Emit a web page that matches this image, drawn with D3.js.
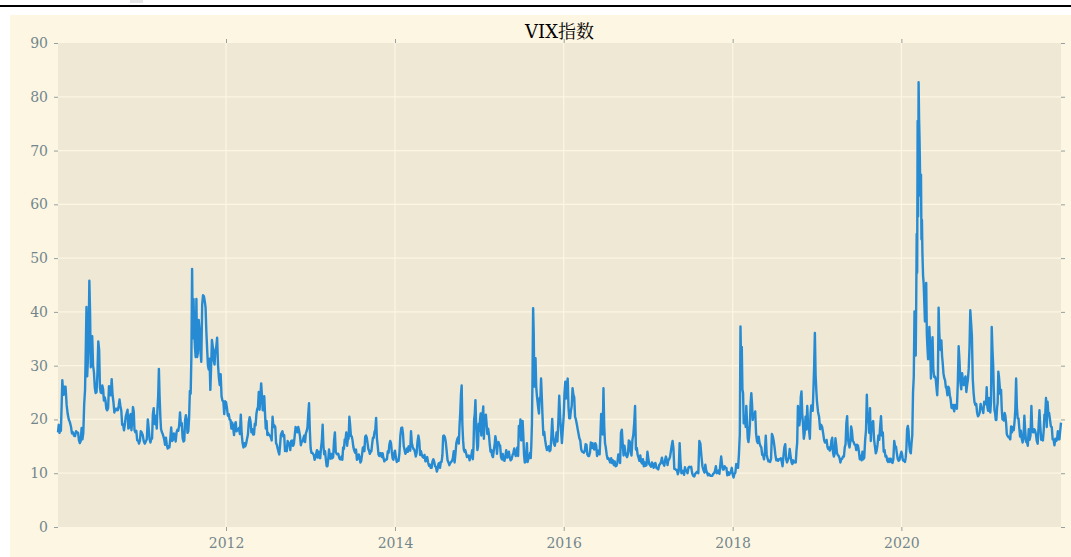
<!DOCTYPE html>
<html>
<head>
<meta charset="utf-8">
<title>VIX指数</title>
<script src="https://cdn.jsdelivr.net/npm/d3@7"></script>
<style>
  html, body { margin: 0; padding: 0; background: #ffffff; }
  svg { display: block; }
</style>
</head>
<body>
<svg id="chart" width="1071" height="557"></svg>
<script>
'use strict';

var chartTitle = 'VIX指数';
var yTicks = [0, 10, 20, 30, 40, 50, 60, 70, 80, 90];
var xTickYears = [2012, 2014, 2016, 2018, 2020];
var firstDay = new Date(2010, 0, 4);
var lastDay = new Date(2021, 10, 25);

// closes, one list per month (Jan..Dec)
var vix2010 = [
    [17.6, 19.0, 17.5, 18.0, 17.9, 22.3, 27.3, 25.4, 24.6],
    [26.1, 26.1, 22.7, 21.0, 20.0, 19.5],
    [18.7, 17.4, 17.6, 17.0, 16.9, 17.8, 17.6],
    [17.5, 16.1, 15.6, 16.0, 18.4, 16.3, 17.5, 22.8],
    [25.5, 32.8, 40.9, 28.0, 31.2, 35.0, 45.8, 40.1, 29.7, 32.1],
    [35.5, 30.0, 28.8, 25.9, 24.9, 25.1, 28.5, 34.5],
    [32.9, 26.0, 25.0, 24.9, 26.3, 25.6, 23.5, 24.1, 23.5],
    [22.0, 21.7, 22.1, 26.2, 25.5, 24.5, 27.5, 24.5],
    [23.2, 21.3, 22.0, 21.7, 22.0, 21.7, 22.5, 23.7],
    [22.5, 21.6, 19.0, 19.1, 18.0, 19.1, 20.6, 21.2],
    [21.8, 18.3, 18.5, 20.6, 21.0, 18.0, 19.6, 22.3, 21.5],
    [18.0, 17.6, 17.9, 16.1, 16.1, 15.5, 16.0, 17.8]
];
var vix2011 = [
    [17.6, 17.1, 16.0, 15.5, 15.9, 16.3, 20.0],
    [18.0, 16.3, 15.7, 16.4, 16.4, 21.0, 22.1, 19.2],
    [19.1, 20.7, 18.3, 21.9, 24.3, 29.4, 24.3, 20.6, 18.2, 17.7],
    [17.4, 16.9, 16.3, 15.3, 16.6, 15.3, 14.6, 15.0],
    [14.8, 16.4, 18.5, 16.0, 16.2, 17.4, 17.1, 15.9],
    [17.6, 18.1, 17.9, 18.9, 21.3, 18.9, 19.3, 16.5],
    [15.9, 16.1, 19.9, 20.8, 20.0, 17.5, 17.8, 20.2, 25.3],
    [24.8, 31.7, 48.0, 35.1, 42.4, 36.3, 33.4, 31.6, 42.4, 31.6],
    [32.3, 38.5, 36.6, 32.7, 30.7, 41.3, 43.1, 42.9],
    [42.0, 40.8, 36.3, 33.0, 30.0, 29.3, 31.3, 25.5, 29.9],
    [34.8, 33.5, 31.0, 30.2, 32.9, 33.5, 35.2, 30.2],
    [27.8, 26.4, 28.4, 24.3, 23.5, 23.4, 21.0, 23.4]
];
var vix2012 = [
    [23.2, 22.2, 20.7, 21.0, 20.0, 19.9, 18.3, 19.4],
    [18.4, 17.1, 19.0, 19.5, 17.8, 18.2, 18.0, 18.4],
    [17.3, 20.9, 17.3, 15.6, 14.8, 15.6, 15.0, 15.5],
    [16.4, 17.2, 19.5, 20.4, 19.6, 17.6, 18.2, 17.2],
    [17.2, 19.2, 18.9, 21.0, 21.9, 22.3, 25.1, 21.8, 24.1],
    [26.7, 24.5, 21.7, 21.7, 24.3, 21.1, 18.3, 19.7, 17.1],
    [17.5, 17.1, 17.0, 16.7, 16.1, 20.5, 18.6, 18.9],
    [18.6, 15.6, 15.3, 14.6, 14.0, 13.5, 15.1, 17.1, 17.5],
    [17.8, 16.8, 17.1, 14.1, 14.6, 14.1, 16.0, 15.7],
    [15.4, 14.3, 16.0, 16.1, 15.1, 15.4, 17.0, 18.6],
    [18.3, 17.6, 18.6, 17.9, 16.9, 15.2, 15.9, 15.9],
    [16.6, 17.0, 15.8, 17.4, 17.8, 18.5, 21.0, 23.0, 18.0]
];
var vix2013 = [
    [14.7, 13.8, 13.8, 13.6, 13.4, 12.5, 12.9, 13.6, 14.3],
    [12.9, 14.0, 13.0, 12.8, 14.7, 16.0, 19.0, 15.0],
    [13.5, 14.1, 12.6, 11.3, 11.3, 12.6, 14.4, 13.2, 12.7],
    [13.6, 12.8, 13.0, 16.0, 17.6, 14.0, 13.6, 13.5],
    [13.6, 12.9, 12.6, 12.6, 13.1, 12.5, 14.8, 14.5, 16.3],
    [16.3, 17.6, 15.1, 16.3, 16.4, 20.5, 18.9, 16.9, 16.9],
    [16.2, 14.9, 14.2, 13.8, 14.4, 12.5, 12.7, 13.5],
    [12.9, 12.0, 12.3, 13.4, 14.7, 14.9, 14.1, 16.8, 17.0],
    [16.6, 15.6, 14.5, 14.2, 13.6, 14.0, 14.1, 15.5, 16.6],
    [16.6, 17.7, 18.1, 20.3, 16.5, 15.1, 13.5, 13.2, 13.7],
    [13.7, 13.0, 13.7, 12.8, 12.2, 12.5, 12.5, 12.6],
    [14.1, 13.8, 15.4, 16.0, 15.6, 14.0, 12.8, 12.5, 13.7]
];
var vix2014 = [
    [14.2, 13.0, 12.1, 12.4, 12.3, 13.8, 17.0, 18.4],
    [18.5, 17.4, 15.0, 14.3, 13.6, 14.0, 14.6, 14.0],
    [15.0, 14.8, 14.2, 17.8, 15.6, 15.0, 14.5, 14.4, 13.9],
    [13.1, 13.8, 15.9, 17.0, 16.0, 13.4, 14.1, 13.4],
    [13.0, 12.9, 13.4, 12.2, 12.4, 13.0, 12.0, 11.4],
    [11.6, 11.0, 11.0, 12.2, 12.6, 12.1, 11.3, 11.2],
    [10.3, 10.8, 11.7, 11.9, 11.0, 12.1, 12.1, 13.3, 16.9],
    [17.0, 16.7, 15.8, 14.1, 12.4, 12.0, 11.5, 11.9],
    [12.1, 12.3, 12.8, 14.1, 12.0, 13.7, 15.6, 16.3],
    [16.7, 15.5, 18.8, 21.2, 24.6, 26.3, 19.0, 16.1, 14.4, 14.0],
    [14.3, 13.7, 13.0, 13.1, 13.3, 12.4, 13.0, 13.3],
    [14.3, 12.6, 14.9, 20.0, 21.1, 23.6, 19.4, 16.5, 14.3, 15.0, 19.2]
];
var vix2015 = [
    [17.8, 20.0, 21.1, 17.0, 19.9, 20.9, 22.4, 16.4, 20.0, 19.0, 20.9],
    [19.4, 17.3, 18.3, 17.2, 15.3, 14.0, 14.3, 13.3],
    [13.0, 14.2, 15.2, 16.9, 16.0, 13.6, 15.4, 15.8, 15.3],
    [15.1, 13.0, 12.6, 13.6, 12.4, 12.3, 13.1, 14.3],
    [12.9, 13.1, 14.0, 12.9, 12.4, 12.6, 13.3, 13.8],
    [14.6, 13.6, 13.2, 14.0, 14.8, 13.2, 18.8, 16.9, 20.0],
    [16.1, 16.8, 19.7, 17.0, 13.4, 12.0, 12.1, 13.7, 15.6, 12.1],
    [12.6, 13.4, 13.0, 13.8, 12.8, 15.3, 19.1, 28.0, 40.7, 36.0, 26.1, 28.4],
    [31.4, 26.1, 24.4, 23.2, 22.0, 21.1, 24.0, 23.6, 27.6, 24.5],
    [20.9, 17.1, 17.7, 16.2, 15.1, 14.3, 14.5, 15.0],
    [14.1, 14.3, 16.7, 20.1, 16.9, 15.5, 15.1, 16.1],
    [17.6, 15.9, 19.6, 24.4, 20.6, 17.9, 15.6, 18.2]
];
var vix2016 = [
    [20.7, 24.9, 27.0, 23.9, 26.1, 27.6, 22.3, 20.2, 20.2],
    [21.6, 22.5, 25.8, 24.6, 24.1, 20.5, 20.0, 19.2],
    [18.3, 17.4, 16.5, 16.1, 14.5, 14.0, 14.0, 13.8],
    [14.1, 15.4, 15.3, 13.5, 13.2, 13.2, 13.8, 15.7],
    [14.7, 15.6, 14.7, 14.4, 15.6, 15.2, 13.2, 14.2],
    [14.2, 13.5, 17.0, 21.0, 19.4, 17.2, 25.8, 18.7, 15.6],
    [14.8, 13.5, 12.7, 12.8, 12.4, 12.0, 12.8, 11.9],
    [12.4, 11.5, 12.2, 11.3, 11.4, 12.0, 13.5, 13.4],
    [11.9, 17.5, 18.1, 15.4, 13.3, 15.1, 14.0, 13.3],
    [13.0, 13.5, 16.1, 15.9, 14.0, 13.3, 16.2, 17.1],
    [19.3, 22.5, 14.4, 14.7, 13.4, 12.9, 12.3, 13.3],
    [12.1, 11.8, 12.6, 11.3, 12.0, 11.4, 11.5, 14.0]
];
var vix2017 = [
    [12.8, 11.7, 11.5, 11.2, 12.0, 11.5, 11.0, 11.8],
    [11.9, 11.0, 10.9, 10.7, 11.5, 11.7, 12.1],
    [12.9, 11.9, 11.7, 11.4, 12.5, 13.1, 12.5, 11.5, 12.4],
    [12.6, 13.0, 14.0, 15.1, 16.0, 14.6, 10.8, 10.8],
    [10.6, 10.6, 9.8, 10.4, 15.6, 12.0, 10.0, 10.4],
    [10.4, 9.7, 11.1, 10.6, 10.4, 10.0, 11.0, 11.2],
    [11.1, 11.2, 10.0, 9.5, 9.4, 9.9, 10.1],
    [10.3, 10.0, 16.0, 15.5, 13.2, 11.3, 10.6],
    [10.1, 11.6, 10.5, 10.1, 9.6, 9.9, 9.7, 9.5],
    [9.5, 9.5, 9.9, 10.0, 10.4, 11.3, 10.0, 10.2],
    [10.5, 9.9, 11.5, 13.1, 11.7, 10.7, 10.7, 11.3],
    [11.0, 11.0, 9.6, 10.2, 9.7, 10.0, 10.3, 11.0]
];
var vix2018 = [
    [9.8, 9.2, 9.9, 10.1, 11.7, 11.3, 11.0, 13.5],
    [17.3, 37.3, 29.9, 33.5, 25.6, 24.9, 19.3, 19.5, 20.6, 18.6],
    [22.5, 19.6, 16.5, 15.8, 17.0, 19.0, 23.0, 24.9, 22.9, 19.9],
    [21.1, 20.5, 21.5, 17.4, 16.0, 15.6, 16.8, 15.6],
    [15.1, 14.8, 13.4, 13.4, 12.6, 14.0, 17.0, 13.5],
    [12.7, 12.2, 12.3, 12.1, 12.7, 17.3, 16.9, 16.1],
    [14.9, 13.4, 12.4, 12.6, 12.3, 12.6, 12.6, 12.8],
    [12.2, 11.3, 13.2, 14.8, 15.4, 12.6, 12.0, 12.5],
    [12.9, 14.5, 13.2, 12.1, 11.7, 12.4, 12.0, 12.1],
    [12.0, 14.2, 15.7, 22.5, 21.3, 18.9, 20.1, 24.2, 25.2, 21.2],
    [19.3, 16.4, 17.4, 20.5, 18.1, 22.5, 18.9, 18.1],
    [16.4, 21.2, 22.6, 21.6, 21.6, 25.6, 30.1, 36.1, 28.3, 25.4]
];
var vix2019 = [
    [23.2, 21.4, 20.5, 18.2, 19.0, 18.6, 17.4],
    [16.1, 15.7, 15.7, 16.2, 14.9, 14.5, 14.8, 14.2],
    [14.6, 16.1, 16.6, 13.8, 13.1, 13.6, 16.5, 15.2, 13.7],
    [13.4, 13.2, 12.8, 12.0, 12.6, 12.7, 13.1, 13.1],
    [14.8, 15.4, 19.3, 20.6, 16.4, 15.4, 14.8, 15.9, 18.7],
    [17.9, 16.0, 15.8, 15.3, 15.3, 14.3, 15.3, 15.1],
    [14.1, 12.6, 13.2, 12.4, 14.0, 12.6, 12.9, 16.1],
    [18.0, 24.6, 19.5, 21.1, 17.5, 22.1, 16.0, 19.4, 18.9],
    [19.7, 16.3, 15.0, 13.7, 14.2, 15.3, 17.0, 16.2],
    [18.6, 20.6, 17.0, 17.6, 14.0, 14.3, 13.1, 13.2],
    [12.3, 12.1, 12.7, 12.1, 12.7, 12.3, 11.9, 12.6],
    [16.0, 15.0, 14.9, 13.6, 12.6, 12.3, 12.5, 13.4]
];
var vix2020 = [
    [14.0, 13.5, 12.5, 12.3, 12.4, 12.1, 12.9, 14.6, 18.2, 18.8],
    [17.9, 15.2, 14.0, 13.7, 15.6, 17.1, 25.0, 27.9, 40.1],
    [33.4, 31.9, 41.9, 54.5, 47.3, 75.5, 57.8, 82.7, 75.9, 72.0, 66.0, 61.6, 65.5, 53.5, 57.1],
    [50.9, 46.8, 45.2, 41.7, 38.2, 41.0, 45.4, 35.9, 33.3, 31.2, 34.2],
    [37.2, 33.6, 27.6, 33.0, 35.3, 29.3, 27.9, 28.0, 27.5],
    [25.8, 24.5, 27.6, 40.8, 36.1, 33.7, 32.9, 34.7, 31.8, 30.4],
    [28.6, 27.7, 27.3, 26.0, 25.7, 24.5, 26.1, 25.8, 24.5],
    [23.8, 22.2, 22.1, 22.7, 21.5, 22.7, 22.4, 22.0],
    [26.6, 33.6, 30.8, 26.9, 25.6, 28.6, 26.9, 26.4],
    [27.6, 28.0, 25.1, 26.4, 27.4, 29.4, 33.3, 40.3, 38.0],
    [35.6, 27.6, 24.9, 23.2, 22.7, 22.9, 21.3, 20.6],
    [20.8, 21.3, 22.9, 22.1, 21.9, 21.2, 23.3, 22.8]
];
var vix2021 = [
    [22.8, 26.0, 22.2, 21.6, 24.0, 23.2, 21.3, 23.2, 37.2, 33.1],
    [30.2, 25.6, 21.8, 21.2, 19.9, 19.9, 22.1, 23.1, 28.9, 27.9],
    [26.4, 24.7, 25.5, 21.9, 20.0, 20.0, 19.8, 21.2, 20.7, 19.4],
    [17.3, 16.9, 16.7, 16.6, 16.3, 18.7, 17.6, 18.6],
    [18.0, 19.5, 21.8, 27.6, 22.2, 20.2, 20.2, 18.4, 16.8],
    [17.9, 16.4, 15.7, 16.4, 20.7, 17.9, 15.8, 15.8],
    [15.1, 18.2, 16.2, 17.0, 22.5, 17.9, 17.6, 18.2],
    [18.0, 17.3, 16.0, 15.5, 18.6, 21.7, 18.6, 16.2],
    [16.4, 16.1, 17.9, 20.9, 20.8, 24.0, 18.6, 23.3, 21.2],
    [21.2, 20.0, 18.7, 18.6, 16.3, 16.3, 15.2, 16.4],
    [16.0, 16.3, 17.8, 16.3, 16.3, 17.9, 19.4]
];

var years = [2010, 2011, 2012, 2013, 2014, 2015, 2016, 2017, 2018, 2019, 2020, 2021];
var vixByYear = [vix2010, vix2011, vix2012, vix2013, vix2014, vix2015,
                 vix2016, vix2017, vix2018, vix2019, vix2020, vix2021];

var W = 1071, H = 557;
var margin = {top: 43, right: 10, bottom: 30, left: 58};
var gridColor = '#fdf6e3';
var tickColor = '#93a1a1';
var labelColor = '#73868c';
var lineColor = '#268bd2';
var serif = '"DejaVu Serif", "Noto Serif CJK SC", "Noto Sans CJK SC", serif';

// spread each month's readings across that month
function buildPoints() {
    var points = [];
    years.forEach(function(year, k) {
        vixByYear[k].forEach(function(month, m) {
            var t0 = new Date(year, m, 1);
            var t1 = new Date(year, m + 1, 1);
            if (+t0 < +firstDay) t0 = firstDay;
            if (+t1 > +lastDay) t1 = lastDay;
            month.forEach(function(v, i) {
                points.push({date: new Date(+t0 + (t1 - t0) * i / month.length), value: v});
            });
        });
    });
    return points;
}

function draw() {
    var points = buildPoints();
    var svg = d3.select('#chart');

    // the rule above the figure
    svg.append('rect').attr('x', 130).attr('y', 0).attr('width', 13).attr('height', 3).attr('fill', '#e6e6e6');
    svg.append('rect').attr('x', 0).attr('y', 5).attr('width', W).attr('height', 2).attr('fill', '#000');

    // figure panel
    svg.append('rect').attr('x', 10).attr('y', 15).attr('width', W - 10).attr('height', H - 15).attr('fill', '#fdf6e3');

    var x = d3.scaleTime()
        .domain(d3.extent(points, function(d) { return d.date; }))
        .range([margin.left, W - margin.right]);
    var y = d3.scaleLinear().domain([0, 90]).range([H - margin.bottom, margin.top]);

    var x0 = margin.left, x1 = W - margin.right, y0 = margin.top, y1 = H - margin.bottom;
    var xTicks = xTickYears.map(function(yr) { return new Date(yr, 0, 1); });

    svg.append('rect').attr('x', x0).attr('y', y0).attr('width', x1 - x0).attr('height', y1 - y0).attr('fill', '#eee8d5');

    var grid = svg.append('g').attr('stroke', gridColor).attr('stroke-width', 1.2);
    grid.selectAll('.hg').data(yTicks.slice(1, -1)).enter().append('line')
        .attr('x1', x0).attr('x2', x1)
        .attr('y1', function(d) { return y(d); }).attr('y2', function(d) { return y(d); });
    grid.selectAll('.vg').data(xTicks).enter().append('line')
        .attr('y1', y0).attr('y2', y1)
        .attr('x1', function(d) { return x(d); }).attr('x2', function(d) { return x(d); });

    var line = d3.line()
        .x(function(d) { return x(d.date); })
        .y(function(d) { return y(d.value); });

    svg.append('path').datum(points)
        .attr('fill', 'none')
        .attr('stroke', lineColor)
        .attr('stroke-width', 2.4)
        .attr('stroke-linejoin', 'round')
        .attr('d', line);

    function styleAxis(g, showLabels) {
        g.select('.domain').remove();
        g.selectAll('.tick line').attr('stroke', tickColor);
        g.selectAll('.tick text')
            .attr('fill', labelColor)
            .style('font-family', serif)
            .style('font-size', '14px');
        if (!showLabels) g.selectAll('.tick text').remove();
    }

    svg.append('g').attr('transform', 'translate(' + x0 + ',0)')
        .call(d3.axisLeft(y).tickValues(yTicks).tickSize(4).tickPadding(6))
        .call(styleAxis, true);
    svg.append('g').attr('transform', 'translate(' + x1 + ',0)')
        .call(d3.axisRight(y).tickValues(yTicks).tickSize(4))
        .call(styleAxis, false);
    svg.append('g').attr('transform', 'translate(0,' + y1 + ')')
        .call(d3.axisBottom(x).tickValues(xTicks).tickFormat(d3.timeFormat('%Y')).tickSize(4).tickPadding(7))
        .call(styleAxis, true);
    svg.append('g').attr('transform', 'translate(0,' + y0 + ')')
        .call(d3.axisTop(x).tickValues(xTicks).tickSize(4))
        .call(styleAxis, false);

    svg.append('text')
        .attr('x', (x0 + x1) / 2)
        .attr('y', 38)
        .attr('text-anchor', 'middle')
        .attr('fill', '#000')
        .style('font-family', serif)
        .style('font-size', '18px')
        .text(chartTitle);
}

draw();
</script>
</body>
</html>
